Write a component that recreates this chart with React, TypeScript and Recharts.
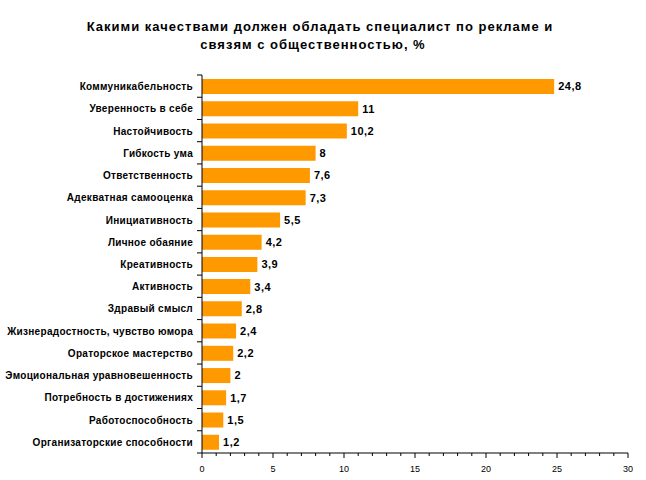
import { BarChart, Bar, XAxis, YAxis, LabelList } from "recharts";

const qualities = [
  "Коммуникабельность",
  "Уверенность в себе",
  "Настойчивость",
  "Гибкость ума",
  "Ответственность",
  "Адекватная самооценка",
  "Инициативность",
  "Личное обаяние",
  "Креативность",
  "Активность",
  "Здравый смысл",
  "Жизнерадостность, чувство юмора",
  "Ораторское мастерство",
  "Эмоциональная уравновешенность",
  "Потребность в достижениях",
  "Работоспособность",
  "Организаторские способности",
];

const shares = [24.8, 11, 10.2, 8, 7.6, 7.3, 5.5, 4.2, 3.9, 3.4, 2.8, 2.4, 2.2, 2, 1.7, 1.5, 1.2];

const xTicks = Array.from({ length: 31 }, (_, i) => i);

const data = qualities.map((name, i) => ({ name, value: shares[i] }));

const FONT = "'Liberation Sans', Arial, sans-serif";
const PLOT_TOP = 75;
const PLOT_BOTTOM = 453;
const band = (PLOT_BOTTOM - PLOT_TOP) / qualities.length;

function CategoryTick(props: any) {
  const { x, y, payload, index } = props;
  const axisX = x + 8;
  return (
    <g>
      <line x1={axisX - 5} x2={axisX} y1={y - band / 2} y2={y - band / 2} stroke="#000" />
      {index === qualities.length - 1 && (
        <line x1={axisX - 5} x2={axisX} y1={y + band / 2} y2={y + band / 2} stroke="#000" />
      )}
      <text
        x={axisX - 9}
        y={y}
        dy={4}
        textAnchor="end"
        fontSize={10}
        fontWeight="bold"
        fontFamily={FONT}
        letterSpacing={0.3}
        fill="#000"
      >
        {payload.value}
      </text>
    </g>
  );
}

function ValueTick(props: any) {
  const { x, y, payload } = props;
  const major = payload.value % 5 === 0;
  return (
    <g>
      <line x1={x} x2={x} y1={y - 8} y2={y - 8 + (major ? 5 : 3)} stroke="#000" />
      {major && (
        <text x={x} y={y + 11} textAnchor="middle" fontSize={9} fontFamily={FONT} fill="#000">
          {payload.value}
        </text>
      )}
    </g>
  );
}

export default function App() {
  return (
    <div style={{ position: "absolute", left: 0, top: 0, width: 646, height: 480, background: "#fff" }}>
      <div
        style={{
          position: "absolute",
          left: 0,
          top: 18,
          width: 646,
          textAlign: "center",
          fontFamily: FONT,
          fontWeight: "bold",
          fontSize: 13,
          lineHeight: "18px",
          letterSpacing: 1,
          color: "#000",
        }}
      >
        <div style={{ marginLeft: -6 }}>Какими качествами должен обладать специалист по рекламе и</div>
        <div style={{ marginLeft: -20 }}>связям с общественностью, %</div>
      </div>
      <BarChart
        width={646}
        height={480}
        data={data}
        layout="vertical"
        margin={{ top: PLOT_TOP, right: 18, bottom: 480 - PLOT_BOTTOM - 22, left: 0 }}
      >
        <XAxis
          type="number"
          domain={[0, 30]}
          ticks={xTicks}
          interval={0}
          tick={<ValueTick />}
          tickLine={false}
          axisLine={{ stroke: "#000" }}
          height={22}
        />
        <YAxis
          type="category"
          dataKey="name"
          width={202}
          interval={0}
          tick={<CategoryTick />}
          tickLine={false}
          axisLine={{ stroke: "#000" }}
        />
        <Bar dataKey="value" fill="#FF9900" barSize={15} isAnimationActive={false}>
          <LabelList
            dataKey="value"
            position="right"
            offset={4}
            formatter={(v: any) => String(v).replace(".", ",")}
            style={{ fontSize: 11, fontWeight: "bold", fontFamily: FONT, fill: "#000", letterSpacing: 0.5 }}
          />
        </Bar>
      </BarChart>
    </div>
  );
}
